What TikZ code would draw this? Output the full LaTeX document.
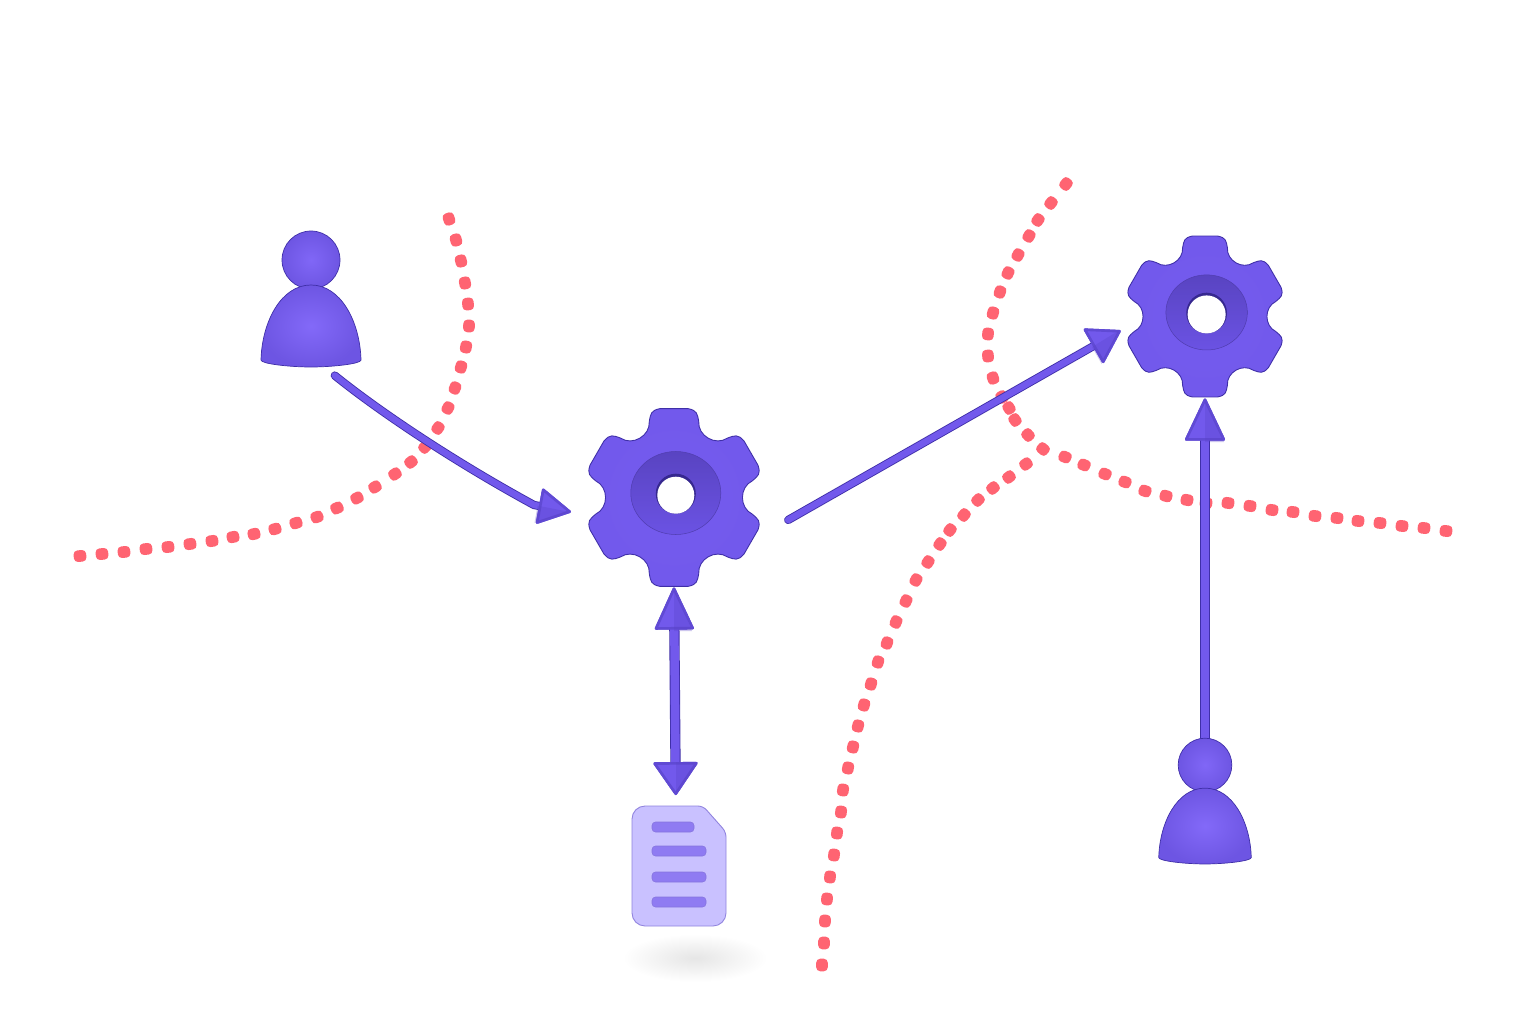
\documentclass[tikz,border=0pt]{standalone}
\usetikzlibrary{arrows.meta,calc}
\definecolor{mainc}{HTML}{7259EC}
\definecolor{edgec}{HTML}{3F2FA8}
\definecolor{ringc}{HTML}{654DDC}
\definecolor{darkc}{HTML}{5A43C8}
\definecolor{lightc}{HTML}{8C72FF}
\definecolor{dotc}{HTML}{FF6472}
\definecolor{docc}{HTML}{C9C1FF}
\definecolor{docedge}{HTML}{9083DE}
\definecolor{barc}{HTML}{8F7BF2}
\colorlet{tipedge}{mainc!65!edgec}
\tikzset{
  anchorc/.style={inner sep=0pt,outer sep=0pt},
  gearnode/.style={anchorc,circle,minimum size=3.6cm},
  gearsmall/.style={anchorc,circle,minimum size=3.2cm},
  personnode/.style={anchorc,rectangle,minimum width=2.04cm,minimum height=2.72cm},
  docnode/.style={anchorc,rectangle,minimum width=1.88cm,minimum height=2.4cm},
  edgeline/.style={draw=edgec,line cap=round},
  mainline/.style={draw=mainc,line cap=round},
  facetstyle/.style={fill=darkc,opacity=.3},
}
\newcommand\dotrun[1]{%
  \foreach \x/\y/\r in {#1}{
    \fill[dotc,rounded corners=.8mm,rotate around={\r:(\x,\y)}] (\x-6.3,\y-5.8) rectangle (\x+6.3,\y+5.8);
  }}
\newcommand\gearshape[3]{%
  \begin{scope}[shift={(#1)},scale=#2]
    \shadedraw[inner color=mainc!92!lightc,outer color=mainc,draw=edgec,line width=.5pt]
      (12:80) \foreach \a in {30,90,...,330}{
        .. controls (\a-15.5:87) and (\a-15:90) .. (\a-9:90) -- (\a+9:90)
        .. controls (\a+15:90) and (\a+15.5:87) .. (\a+18:80)
        .. controls (\a+21:66) and (\a+39:66) .. (\a+42:80)} -- cycle;
    \shadedraw[top color=ringc!88!black,bottom color=ringc!55!mainc,draw=ringc!80!black,line width=.3pt] (1.8,-4.5) ellipse (45 and 41.5);
    \fill[edgec!85!black] (1.8,-3.8) circle (#3+1.5);
    \fill[white] (1.8,-2.3) circle (#3);
  \end{scope}}
\newcommand\personshape[2]{%
  \begin{scope}[shift={(#1)},scale=#2]
    \shadedraw[inner color=mainc!45!lightc,outer color=mainc!96!black,draw=edgec,line width=.4pt]
      (0,-40) circle (29);
    \shadedraw[inner color=mainc!35!lightc,outer color=mainc!96!black,draw=edgec,line width=.4pt]
      (-50,60) .. controls (-49,22) and (-30,-15) .. (0,-15) .. controls (30,-15) and (49,22) .. (50,60)
      .. controls (50,64) and (20,67) .. (0,67) .. controls (-20,67) and (-50,64) .. (-50,60) -- cycle;
  \end{scope}}
\newcommand\connector[3]{%
  \draw[edgeline,line width=#2+.035cm,#1] #3;
  \draw[mainline,line width=#2,#1] #3;}
\begin{document}
\begin{tikzpicture}[x=.02cm,y=-.02cm]
\useasboundingbox (0,0) rectangle (1536,1024);
\fill[white] (0,0) rectangle (1536,1024);

% named places
\node[personnode] (person1) at (311,300) {};
\node[gearnode] (gear1) at (674,497.5) {};
\node[gearsmall] (gear2) at (1205,316.5) {};
\node[personnode,minimum width=1.9cm,minimum height=2.53cm] (person2) at (1205,802) {};
\node[docnode] (doc) at (679,866) {};
\coordinate (bend1) at (534,505);

% boundaries
\dotrun{449/219/-72,456/240/-75,461/261/-77,465/283/-80,468/304/-85,469/326/-92,466/347/-100,461/367/-106,455/388/-112,448/408/-118,438/428/-125,425/447/-135,411/462/-142,395/474/-147,375/487/-150,357/498/-153,337/508/-157,317/517/-160,296/523/-163,275/529/-165,254/534/-168,233/537/-170,212/541/-172,190/544/-172,168/547/-174,146/549/-174,124/552/-175,102/554/-175,80/556/-175}
\dotrun{1066/184/-128,1051/203/-128,1038/220/-125,1029/236/-120,1018/255/-118,1008/273/-115,1000/292/-110,993/313/-105,988/334/-95,988/356/-85,993/378/-72,1002/397/-60,1009/408/-58,1015/420/-55,1028/435/-48,1043/449/-40,1065/457/-22,1084/465/-22,1105/474/-22,1125/482/-20,1145/491/-18,1166/496/-14,1187/500/-10,1206/503/-8,1228/503/-8,1250/506/-8,1272/510/-8,1293/512/-7,1315/516/-7,1337/518/-7,1358/521/-6,1380/523/-6,1402/526/-6,1424/528/-6,1446/531/-6}
\dotrun{1026/464/-145,1009/477/-143,993/488/-140,978/500/-135,964/515/-130,950/530/-128,940/544/-125,928/562/-123,916/580/-118,906/601/-115,896/622/-113,887/643/-110,878/662/-107,871/684/-105,864/705/-105,858/726/-103,853/747/-102,848/768/-100,843/790/-98,841/812/-97,837/833/-97,834/855/-97,830/877/-95,827/899/-94,825/921/-92,824/943/-91,822/965/-90}

% document shadow
\shade[inner color=black!10,outer color=white] (695,958) ellipse (72 and 24);

% connectors
\connector{shorten <=.24cm,shorten >=.3cm,-{Triangle[length=.68cm,width=.74cm,round,color=tipedge,fill=mainc,line width=1.5pt]}}{.13cm}{(person1.-78) .. controls (380,412) and (455,462) .. (bend1) -- (gear1.191)}
\connector{shorten <=.8cm,shorten >=.12cm,-{Triangle[length=.66cm,width=.82cm,round,color=tipedge,fill=mainc,line width=1.5pt]}}{.13cm}{(gear1.-28) -- (gear2.188)}
\connector{shorten >=.22cm,{Triangle[length=.88cm,width=.8cm,round,color=tipedge,fill=mainc,line width=1.5pt]}-{Triangle[length=.68cm,width=.92cm,round,color=tipedge,fill=mainc,line width=1.5pt]}}{.17cm}{(gear1.south) -- (doc.93)}
\connector{shorten >=.04cm,-{Triangle[length=.88cm,width=.82cm,round,color=tipedge,fill=mainc,line width=1.5pt]}}{.16cm}{(person2.north) -- (gear2.south)}

% facets of the arrowheads
\fill[facetstyle] (570,512) -- (537.6,505.7) -- (534.5,523) -- cycle;
\fill[facetstyle] (1119,330.5) -- (1092,347) -- (1101.7,364) -- cycle;
\fill[facetstyle] (674,589) -- (674,631) -- (692,631) -- cycle;
\fill[facetstyle] (676,794) -- (676,762) -- (698,762) -- cycle;
\fill[facetstyle] (1205,400) -- (1205,442) -- (1224,442) -- cycle;

% gears
\gearshape{gear1.center}{1}{18.5}
\gearshape{gear2.center}{.905}{21}

% people
\personshape{person1.center}{1}
\personshape{person2.center}{.925}

% document
\draw[fill=docc,draw=docedge,line width=.5pt] (632,860) [rounded corners=2.6mm] -- (632,806) -- (680,806) [rounded corners=1mm] -- (703,806) -- (726,832) -- (726,860) [rounded corners=2.6mm] -- (726,926) -- (632,926) -- cycle;
\foreach \xa/\ya/\xb/\yb in {652/822/694/832,652/846/706/856,652/872/706/882,652/897/706/907}{
  \draw[fill=barc,draw=darkc!60!docc,line width=.3pt,rounded corners=.7mm] (\xa,\ya) rectangle (\xb,\yb);
}
\end{tikzpicture}
\end{document}
